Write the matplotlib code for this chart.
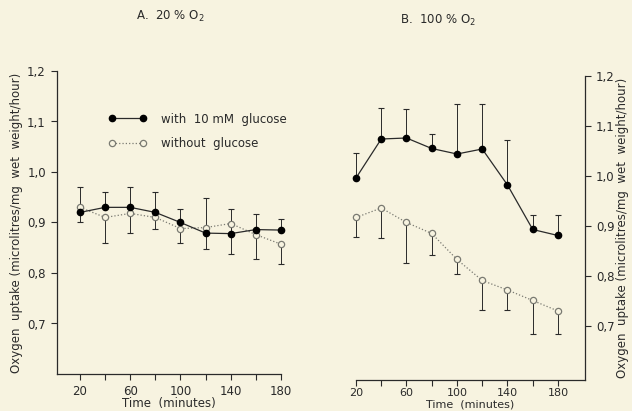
import matplotlib

matplotlib.use("Agg")
import matplotlib.pyplot as plt
from matplotlib.lines import Line2D

# data (oxygen uptake, microlitres/mg wet weight/hour)
time_min = [20, 40, 60, 80, 100, 120, 140, 160, 180]

a_glucose = [0.920, 0.930, 0.930, 0.920, 0.900, 0.879, 0.878, 0.886, 0.885]
a_glucose_hi = [0.971, 0.961, 0.970, 0.960, 0.927, 0.948, 0.927, 0.917, 0.906]
a_none = [0.930, 0.910, 0.918, 0.910, 0.888, 0.890, 0.898, 0.876, 0.857]
a_none_lo = [0.900, 0.860, 0.879, 0.888, 0.859, 0.848, 0.838, 0.828, 0.817]

b_glucose = [0.996, 1.074, 1.076, 1.055, 1.044, 1.054, 0.982, 0.893, 0.881]
b_glucose_hi = [1.045, 1.136, 1.134, 1.083, 1.144, 1.144, 1.072, 0.921, 0.921]
b_none = [0.917, 0.936, 0.907, 0.885, 0.833, 0.791, 0.772, 0.751, 0.730]
b_none_lo = [0.877, 0.875, 0.825, 0.841, 0.803, 0.731, 0.731, 0.684, 0.684]

y_ticks = [0.7, 0.8, 0.9, 1.0, 1.1, 1.2]
y_ticklabels = ["0,7", "0,8", "0,9", "1,0", "1,1", "1,2"]
x_ticklabels = ["20", "", "60", "", "100", "", "140", "", "180"]

BG = "#f7f3e0"
INK = "#2a2a2a"
OPEN = "#7a7a72"
W, H = 632, 411
FS = 8.5
YLABEL = "Oxygen  uptake (microlitres/mg  wet  weight/hour)"

plt.rcParams["font.family"] = "DejaVu Sans"

fig = plt.figure(figsize=(W / 100, H / 100), dpi=100, facecolor=BG)


def px_axes(x0, x1, ytop, ybot):
    return fig.add_axes([x0 / W, 1 - ybot / H, (x1 - x0) / W, (ybot - ytop) / H])


def draw(ax, glu, glu_hi, none, none_lo):
    ax.set_facecolor(BG)
    up = [h - v for h, v in zip(glu_hi, glu)]
    dn = [v - l for v, l in zip(none, none_lo)]
    for y, err in ((glu, [[0] * len(up), up]), (none, [dn, [0] * len(dn)])):
        eb = ax.errorbar(time_min, y, yerr=err, fmt="none", ecolor=INK,
                         elinewidth=0.7, capsize=2, capthick=0.8, zorder=2)
        for art in eb.lines[1] + eb.lines[2]:
            art.set_clip_on(False)
    ax.plot(time_min, none, ls=":", lw=0.9, color=OPEN, marker="o", ms=4.5,
            mfc=BG, mec=OPEN, mew=0.9, zorder=3, clip_on=False)
    ax.plot(time_min, glu, ls="-", lw=0.9, color=INK, marker="o", ms=4.5,
            mfc="black", mec="black", zorder=4, clip_on=False)
    ax.set_ylim(0.6, 1.2)
    ax.set_yticks(y_ticks)
    ax.set_yticklabels(y_ticklabels)
    ax.set_xticks(time_min)
    ax.set_xticklabels(x_ticklabels)
    ax.tick_params(direction="out", length=4, width=0.8, color=INK,
                   labelsize=FS, labelcolor=INK, pad=4)
    for s in ax.spines.values():
        s.set_color(INK)
        s.set_linewidth(0.9)
    ax.spines["top"].set_visible(False)


# panel A
ax1 = px_axes(57, 281, 71, 374)
draw(ax1, a_glucose, a_glucose_hi, a_none, a_none_lo)
ax1.set_xlim(1.7, 180)
ax1.spines["right"].set_visible(False)
ax1.set_ylabel(YLABEL, fontsize=FS, color=INK, labelpad=3)
ax1.set_xlabel("Time  (minutes)", fontsize=FS, color=INK, labelpad=-1)

handles = [
    Line2D([], [], ls="-", lw=0.9, color=INK, marker="o", ms=4.5, mfc="black", mec="black"),
    Line2D([], [], ls=":", lw=0.9, color=OPEN, marker="o", ms=4.5, mfc=BG, mec=OPEN, mew=0.9),
]
ax1.legend(handles, ["with  10 mM  glucose", "without  glucose"], numpoints=2,
           frameon=False, fontsize=FS, handlelength=3.2, handletextpad=1.2,
           labelspacing=1.0, loc="upper left", labelcolor=INK,
           bbox_to_anchor=(98 / W, 1 - 102 / H), bbox_transform=fig.transFigure)

# panel B
ax2 = px_axes(356, 585, 76, 380)
draw(ax2, b_glucose, b_glucose_hi, b_none, b_none_lo)
ax2.set_xlim(20, 201.4)
ax2.set_ylim(0.592, 1.2)
ax2.spines["left"].set_visible(False)
ax2.yaxis.tick_right()
ax2.yaxis.set_label_position("right")
ax2.tick_params(axis="x", pad=1.5, labelsize=8)
ax2.set_ylabel(YLABEL, fontsize=FS, color=INK, labelpad=1, rotation=90)
ax2.set_xlabel("Time  (minutes)", fontsize=8, color=INK)
ax2.xaxis.set_label_coords(0.5, -19 / 304)

fig.text(170 / W, 1 - 16 / H, "A.  20 % O$_2$", fontsize=FS, color=INK,
         ha="center", va="center")
fig.text(438 / W, 1 - 20 / H, "B.  100 % O$_2$", fontsize=FS, color=INK,
         ha="center", va="center")

fig.savefig("out.png", dpi=100, facecolor=BG)
